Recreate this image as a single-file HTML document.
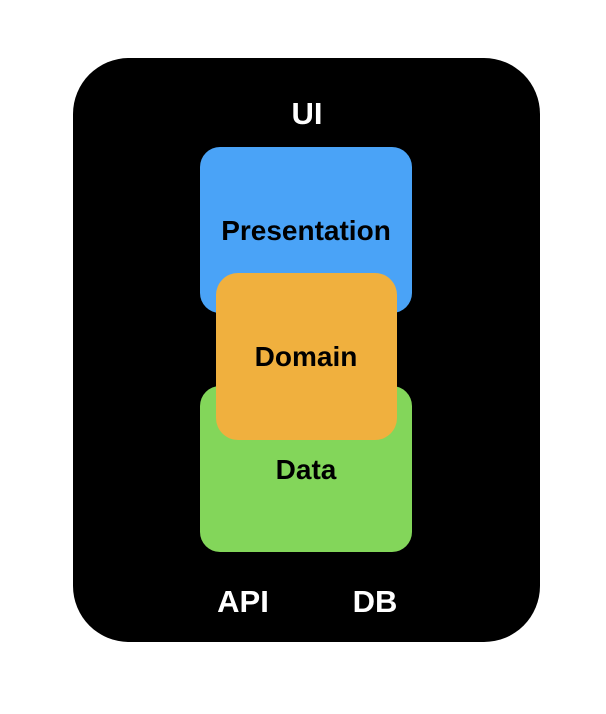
<!DOCTYPE html>
<html><head><style>
html,body{margin:0;padding:0;background:#fff;width:606px;height:714px;overflow:hidden}
div{position:absolute;box-sizing:border-box}
.t{font-family:"Liberation Sans",Arial,sans-serif;font-weight:bold;text-align:center;white-space:nowrap;transform:translate(-50%,-50%)}
</style></head><body>
<div style="left:73px;top:58px;width:467px;height:584px;background:#000;border-radius:56px"></div>
<div style="left:200px;top:147px;width:212px;height:166px;background:#4AA3F7;border-radius:20px"></div>
<div style="left:200px;top:386px;width:212px;height:166px;background:#83D65A;border-radius:20px"></div>
<div style="left:216px;top:273px;width:181px;height:167px;background:#F0B03E;border-radius:22px"></div>
<div class="t" style="left:307px;top:114px;color:#fff;font-size:31px">UI</div>
<div class="t" style="left:306px;top:231px;color:#000;font-size:28px">Presentation</div>
<div class="t" style="left:306px;top:357px;color:#000;font-size:28px">Domain</div>
<div class="t" style="left:306px;top:470px;color:#000;font-size:28px">Data</div>
<div class="t" style="left:243px;top:602px;color:#fff;font-size:31px">API</div>
<div class="t" style="left:375px;top:602px;color:#fff;font-size:31px">DB</div>
</body></html>
